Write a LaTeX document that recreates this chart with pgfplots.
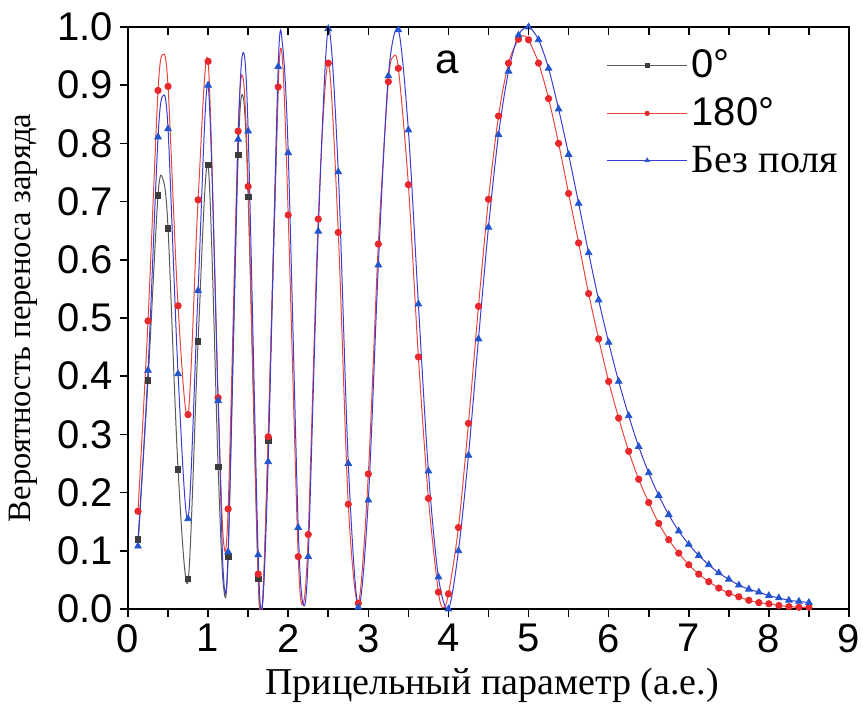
\documentclass[border=0pt]{standalone}
\usepackage{fontspec}
\setmainfont{Liberation Serif}
\setsansfont{Liberation Sans}
\usepackage{pgfplots}
\pgfplotsset{compat=1.18}
\usepackage{pgfplotstable}
\definecolor{cgray}{RGB}{60,60,60}
\definecolor{cgrayl}{RGB}{90,90,90}
\definecolor{cred}{RGB}{232,40,44}
\definecolor{credl}{RGB}{232,70,60}
\definecolor{cblue}{RGB}{35,85,205}
\definecolor{cbluel}{RGB}{60,60,210}

% marker data (every 0.125)
\pgfplotstableread{
x y
0.125 0.120
0.25 0.393
0.375 0.711
0.5 0.654
0.625 0.240
0.75 0.052
0.875 0.460
1.0 0.763
1.125 0.244
1.25 0.090
1.375 0.780
1.5 0.708
1.625 0.052
1.75 0.290
}\blackmarks

\pgfplotstableread{
x y
0.125 0.120
0.25 0.393
0.375 0.711
0.4375 0.738
0.5 0.654
0.625 0.240
0.75 0.048
0.875 0.460
1.0 0.763
1.125 0.244
1.19 0.042
1.25 0.090
1.375 0.780
1.4375 0.880
1.5 0.708
1.625 0.052
1.68 0.010
1.75 0.290
1.875 0.897
}\blackline

\pgfplotstableread{
x y
0.125 0.168
0.25 0.495
0.375 0.891
0.5 0.898
0.625 0.521
0.75 0.334
0.875 0.703
1.0 0.941
1.125 0.363
1.25 0.172
1.375 0.821
1.5 0.726
1.625 0.060
1.75 0.296
1.875 0.897
2.0 0.677
2.125 0.090
2.25 0.128
2.375 0.670
2.5 0.938
2.625 0.647
2.75 0.180
2.875 0.010
3.0 0.232
3.125 0.627
3.25 0.906
3.375 0.929
3.5 0.729
3.625 0.433
3.75 0.190
3.875 0.029
4.0 0.026
4.125 0.140
4.25 0.319
4.375 0.520
4.5 0.704
4.625 0.847
4.75 0.938
4.875 0.979
5.0 0.978
5.125 0.938
5.25 0.877
5.375 0.800
5.5 0.714
5.625 0.629
5.75 0.542
5.875 0.464
6.0 0.391
6.125 0.328
6.25 0.271
6.375 0.223
6.5 0.183
6.625 0.147
6.75 0.119
6.875 0.096
7.0 0.076
7.125 0.060
7.25 0.047
7.375 0.036
7.5 0.027
7.625 0.021
7.75 0.015
7.875 0.011
8.0 0.009
8.125 0.006
8.25 0.004
8.375 0.003
8.5 0.003
}\redmarks

\pgfplotstableread{
x y
0.125 0.168
0.25 0.495
0.375 0.891
0.4375 0.953
0.5 0.898
0.625 0.521
0.75 0.334
0.875 0.703
1.0 0.941
1.125 0.363
1.19 0.120
1.25 0.172
1.375 0.821
1.4375 0.912
1.5 0.726
1.625 0.060
1.68 0.012
1.75 0.296
1.875 0.897
1.93 0.940
2.0 0.677
2.125 0.090
2.1875 0.010
2.25 0.128
2.375 0.670
2.5 0.938
2.625 0.647
2.75 0.180
2.875 0.010
3.0 0.232
3.125 0.627
3.25 0.906
3.3125 0.949
3.375 0.929
3.5 0.729
3.625 0.433
3.75 0.190
3.875 0.029
3.9375 0.002
4.0 0.026
4.125 0.140
4.25 0.319
4.375 0.520
4.5 0.704
4.625 0.847
4.75 0.938
4.875 0.979
4.9375 0.985
5.0 0.978
5.125 0.938
5.25 0.877
5.375 0.800
5.5 0.714
5.625 0.629
5.75 0.542
5.875 0.464
6.0 0.391
6.125 0.328
6.25 0.271
6.375 0.223
6.5 0.183
6.625 0.147
6.75 0.119
6.875 0.096
7.0 0.076
7.125 0.060
7.25 0.047
7.375 0.036
7.5 0.027
7.625 0.021
7.75 0.015
7.875 0.011
8.0 0.009
8.125 0.006
8.25 0.004
8.375 0.003
8.5 0.003
}\redline

\pgfplotstableread{
x y
0.125 0.108
0.25 0.410
0.375 0.811
0.5 0.825
0.625 0.404
0.75 0.155
0.875 0.547
1.0 0.900
1.125 0.358
1.25 0.098
1.375 0.807
1.5 0.821
1.625 0.093
1.75 0.253
1.875 0.932
2.0 0.784
2.125 0.140
2.25 0.090
2.375 0.649
2.5 0.997
2.625 0.751
2.75 0.250
2.875 0.003
3.0 0.187
3.125 0.591
3.25 0.916
3.375 0.995
3.5 0.823
3.625 0.524
3.75 0.237
3.875 0.055
4.0 0.000
4.125 0.100
4.25 0.264
4.375 0.464
4.5 0.656
4.625 0.815
4.75 0.924
4.875 0.986
5.0 1.000
5.125 0.978
5.25 0.929
5.375 0.859
5.5 0.781
5.625 0.697
5.75 0.612
5.875 0.531
6.0 0.458
6.125 0.391
6.25 0.332
6.375 0.279
6.5 0.234
6.625 0.195
6.75 0.162
6.875 0.134
7.0 0.111
7.125 0.092
7.25 0.076
7.375 0.062
7.5 0.051
7.625 0.041
7.75 0.034
7.875 0.029
8.0 0.023
8.125 0.019
8.25 0.015
8.375 0.013
8.5 0.011
}\bluemarks

\pgfplotstableread{
x y
0.125 0.108
0.25 0.410
0.375 0.811
0.4375 0.882
0.5 0.825
0.625 0.404
0.75 0.155
0.875 0.547
1.0 0.900
1.125 0.358
1.19 0.060
1.25 0.098
1.375 0.807
1.4375 0.956
1.5 0.821
1.625 0.093
1.68 0.010
1.75 0.253
1.875 0.932
1.93 0.968
2.0 0.784
2.125 0.140
2.1875 0.008
2.25 0.090
2.375 0.649
2.5 0.997
2.625 0.751
2.75 0.250
2.875 0.003
3.0 0.187
3.125 0.591
3.25 0.916
3.375 0.995
3.5 0.823
3.625 0.524
3.75 0.237
3.875 0.055
4.0 0.000
4.125 0.100
4.25 0.264
4.375 0.464
4.5 0.656
4.625 0.815
4.75 0.924
4.875 0.986
5.0 1.000
5.125 0.978
5.25 0.929
5.375 0.859
5.5 0.781
5.625 0.697
5.75 0.612
5.875 0.531
6.0 0.458
6.125 0.391
6.25 0.332
6.375 0.279
6.5 0.234
6.625 0.195
6.75 0.162
6.875 0.134
7.0 0.111
7.125 0.092
7.25 0.076
7.375 0.062
7.5 0.051
7.625 0.041
7.75 0.034
7.875 0.029
8.0 0.023
8.125 0.019
8.25 0.015
8.375 0.013
8.5 0.011
}\blueline

\begin{document}
\begin{tikzpicture}
\begin{axis}[
  scale only axis, width=360.5pt, height=291pt,
  xmin=0, xmax=9, ymin=0, ymax=1,
  xtick={0,1,2,3,4,5,6,7,8,9},
  minor xtick={0.5,1.5,2.5,3.5,4.5,5.5,6.5,7.5,8.5},
  ytick={0,0.1,0.2,0.3,0.4,0.5,0.6,0.7,0.8,0.9,1},
  tick align=outside, xtick pos=left, ytick pos=left,
  major tick length=4pt, minor tick length=4pt,
  axis line style={line width=0.8pt},
  every tick/.style={line width=0.8pt, black},
  /pgf/number format/assume math mode=true,
  ticklabel style={font=\sffamily\fontsize{20}{20}\selectfont},
  yticklabel style={/pgf/number format/.cd, fixed, fixed zerofill, precision=1},
  xlabel={Прицельный параметр (а.е.)},
  ylabel={Вероятность переноса заряда},
  xlabel style={at={(axis description cs:0.505,-0.131)}, anchor=center, font=\fontsize{19}{19}\selectfont},
  ylabel style={at={(axis description cs:-0.145,0.5)}, anchor=center, rotate=0, font=\fontsize{16.3}{16.3}\selectfont},
  legend style={at={(axis cs:5.97,0.968)}, anchor=north west, draw=none, fill=none,
    font=\fontsize{20}{23}\selectfont, inner sep=0pt, row sep=4.5pt},
  legend cell align=left,
]
% 0 deg
\addplot[cgrayl, line width=0.5pt, smooth, forget plot] table {\blackline};
\addplot[only marks, mark=square*, mark size=1.4pt, color=cgray,
  legend image code/.code={\draw[cgrayl, line width=0.5pt] (0pt,0pt) -- (40pt,0pt);
    \draw[cgray, mark=square*, mark size=1pt] plot coordinates {(20pt,0pt)};}]
  table {\blackmarks};
\addlegendentry{\sffamily 0°}
% 180 deg
\addplot[credl, line width=0.5pt, smooth, forget plot] table {\redline};
\addplot[only marks, mark=*, mark size=1.6pt, color=cred,
  legend image code/.code={\draw[credl, line width=0.5pt] (0pt,0pt) -- (40pt,0pt);
    \draw[cred, mark=*, mark size=1.1pt] plot coordinates {(20pt,0pt)};}]
  table {\redmarks};
\addlegendentry{\sffamily 180°}
% no field
\addplot[cbluel, line width=0.5pt, smooth, forget plot] table {\blueline};
\addplot[only marks, mark=triangle*, mark size=1.9pt, color=cblue,
  legend image code/.code={\draw[cbluel, line width=0.5pt] (0pt,0pt) -- (40pt,0pt);
    \draw[cblue, mark=triangle*, mark size=1.2pt] plot coordinates {(20pt,0pt)};}]
  table {\bluemarks};
\addlegendentry{Без поля}
\node[font=\sffamily\fontsize{21}{21}\selectfont] at (axis cs:3.99,0.94) {a};
\end{axis}
\begin{axis}[
  scale only axis, width=360.5pt, height=291pt,
  xmin=0, xmax=9, ymin=0, ymax=1,
  axis line style={draw=none},
  xtick={0,1,2,3,4,5,6,7,8,9},
  minor xtick={0.5,1.5,2.5,3.5,4.5,5.5,6.5,7.5,8.5},
  xticklabels={}, ytick=\empty,
  xtick pos=right, tick align=inside,
  major tick length=4pt, minor tick length=4pt,
  every tick/.style={line width=0.8pt, black},
]
\end{axis}
\pgfresetboundingbox
\path[use as bounding box] (-64pt,-50pt) rectangle (367.5pt,304.5pt);
\end{tikzpicture}
\end{document}
